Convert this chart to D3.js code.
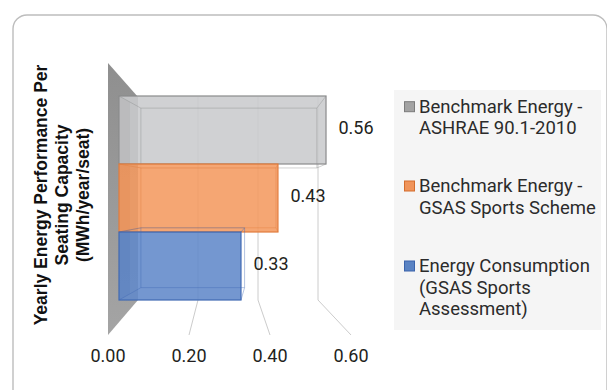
<!DOCTYPE html>
<html>
<head>
<meta charset="utf-8">
<script src="https://cdn.jsdelivr.net/npm/d3@7"></script>
<style>
  html, body { margin: 0; padding: 0; background: #ffffff; }
  svg { display: block; }
</style>
</head>
<body>
<svg id="chart" width="607" height="390"></svg>
<script>
// Yearly energy performance per seat (MWh/year/seat)
const seriesNames = [
  ["Benchmark Energy -", "ASHRAE 90.1-2010"],
  ["Benchmark Energy -", "GSAS Sports Scheme"],
  ["Energy Consumption", "(GSAS Sports", "Assessment)"]
];
const seriesKeys = ["ashrae", "gsasScheme", "gsasAssessment"];
const seriesValues = [0.56, 0.43, 0.33];
const xTicks = [0.00, 0.20, 0.40, 0.60];
const axisTitle = ["Yearly Energy Performance Per", "Seating Capacity", "(MWh/year/seat)"];

const fills   = ["#c9cbcd", "#f49a60", "#6189c9"];
const strokes = ["#8a8b8c", "#e27c3c", "#4069b3"];
const legendFills   = ["#a3a3a3", "#f0945a", "#5a83c3"];
const legendStrokes = ["#7c7c7c", "#d46d2d", "#3a63ab"];

const svg = d3.select("#chart");

// card frame
svg.append("rect")
  .attr("x", 13).attr("y", 15)
  .attr("width", 594).attr("height", 400)
  .attr("rx", 14).attr("ry", 14)
  .attr("fill", "#ffffff")
  .attr("stroke", "#bdbdbd").attr("stroke-width", 1.4);

// 3D plot geometry: front edge of the floor, back wall, and the bar plane between them
const xFront = d3.scaleLinear().domain([0, 0.6]).range([108, 351]);
const xBack  = d3.scaleLinear().domain([0, 0.6]).range([138, 318]);
const xBar   = d3.scaleLinear().domain([0, 0.6]).range([119, 340.8]);
const yBar   = d3.scaleBand().domain(seriesKeys).range([96, 300]).padding(0);
const frontTop = 63, frontBottom = 335, backTop = 97, backBottom = 300;

// perspective shrink used for the rear face of each bar
const vp = { x: 265, y: 197, sx: 0.85, sy: 0.88 };
const rear = (x, y) => [vp.x + vp.sx * (x - vp.x), vp.y + vp.sy * (y - vp.y)];

// side wall
const defs = svg.append("defs");
const wallGrad = defs.append("linearGradient").attr("id", "wallGrad")
  .attr("x1", 0).attr("y1", 0).attr("x2", 0).attr("y2", 1);
wallGrad.append("stop").attr("offset", "0%").attr("stop-color", "#8f8f8f");
wallGrad.append("stop").attr("offset", "100%").attr("stop-color", "#a4a4a4");

svg.append("path")
  .attr("d", d3.line()([
    [xFront(0), frontTop], [xBack(0), backTop],
    [xBack(0), backBottom], [xFront(0), frontBottom]
  ]) + "Z")
  .attr("fill", "url(#wallGrad)");

// gridlines on the back wall, folding onto the floor
const grid = svg.append("g").attr("fill", "none").attr("stroke", "#cccccc").attr("stroke-width", 1);
xTicks.filter(t => t > 0).forEach(t => {
  grid.append("path").attr("d", d3.line()([
    [xBack(t), backTop], [xBack(t), backBottom], [xFront(t), frontBottom]
  ]));
});

// bars
const bars = svg.append("g");
seriesKeys.forEach((k, i) => {
  const v = seriesValues[i];
  const x0 = xBar(0), x1 = xBar(v);
  const y0 = yBar(k), y1 = yBar(k) + yBar.bandwidth();
  const g = bars.append("g");
  const f = [[x0, y0], [x1, y0], [x1, y1], [x0, y1]];
  const b = f.map(p => rear(p[0], p[1]));

  // front face
  g.append("rect")
    .attr("x", x0).attr("y", y0).attr("width", x1 - x0).attr("height", y1 - y0)
    .attr("fill", fills[i]).attr("fill-opacity", 0.88);

  // slightly darker left side face seen through the front
  g.append("path")
    .attr("d", d3.line()([f[0], [(f[0][0] + b[0][0]) / 2, (f[0][1] + b[0][1]) / 2],
                          [(f[3][0] + b[3][0]) / 2, (f[3][1] + b[3][1]) / 2], f[3]]) + "Z")
    .attr("fill", strokes[i]).attr("fill-opacity", 0.15);

  // rear edges and corner edges
  g.append("path")
    .attr("d", d3.line()([b[0], b[1], b[2], b[3]]) + "Z")
    .attr("fill", "none").attr("stroke", strokes[i]).attr("stroke-opacity", 0.4).attr("stroke-width", 1);
  f.forEach((p, j) => {
    g.append("line")
      .attr("x1", p[0]).attr("y1", p[1]).attr("x2", b[j][0]).attr("y2", b[j][1])
      .attr("stroke", strokes[i]).attr("stroke-opacity", 0.4).attr("stroke-width", 1);
  });

  // front outline
  g.append("rect")
    .attr("x", x0).attr("y", y0).attr("width", x1 - x0).attr("height", y1 - y0)
    .attr("fill", "none").attr("stroke", strokes[i]).attr("stroke-width", 1.2);

  // value label
  svg.append("text")
    .attr("x", x1 + 12.5).attr("y", y0 + yBar.bandwidth() / 2 + 4)
    .attr("font-family", "Roboto, sans-serif").attr("font-size", 18)
    .attr("fill", "#231f20")
    .text(d3.format(".2f")(v));
});

// x-axis tick labels along the front edge
svg.append("g").selectAll("text").data(xTicks).join("text")
  .attr("x", d => xFront(d)).attr("y", 361.5)
  .attr("text-anchor", "middle")
  .attr("font-family", "Roboto, sans-serif").attr("font-size", 18)
  .attr("fill", "#231f20")
  .text(d => d3.format(".2f")(d));

// axis title
const title = svg.append("text")
  .attr("transform", "translate(47,195) rotate(-90)")
  .attr("text-anchor", "middle")
  .attr("font-family", "'Liberation Sans', Arial, sans-serif")
  .attr("font-weight", "bold").attr("font-size", 17.5)
  .attr("fill", "#111111");
axisTitle.forEach((t, i) => {
  title.append("tspan").attr("x", 0).attr("y", i * 21).text(t);
});

// legend
svg.append("rect")
  .attr("x", 394).attr("y", 90).attr("width", 207).attr("height", 240)
  .attr("fill", "#f5f5f5");

const legendBase = [112.7, 192, 272];
const legend = svg.append("g");
seriesNames.forEach((lines, i) => {
  legend.append("rect")
    .attr("x", 404.5).attr("y", legendBase[i] - 11)
    .attr("width", 10).attr("height", 10)
    .attr("fill", legendFills[i]).attr("stroke", legendStrokes[i]).attr("stroke-width", 1);
  const t = legend.append("text")
    .attr("font-family", "Roboto, sans-serif").attr("font-size", 18.5)
    .attr("fill", "#2b2b2b");
  lines.forEach((line, j) => {
    t.append("tspan").attr("x", 419).attr("y", legendBase[i] + j * 21.5).text(line);
  });
});
</script>
</body>
</html>
